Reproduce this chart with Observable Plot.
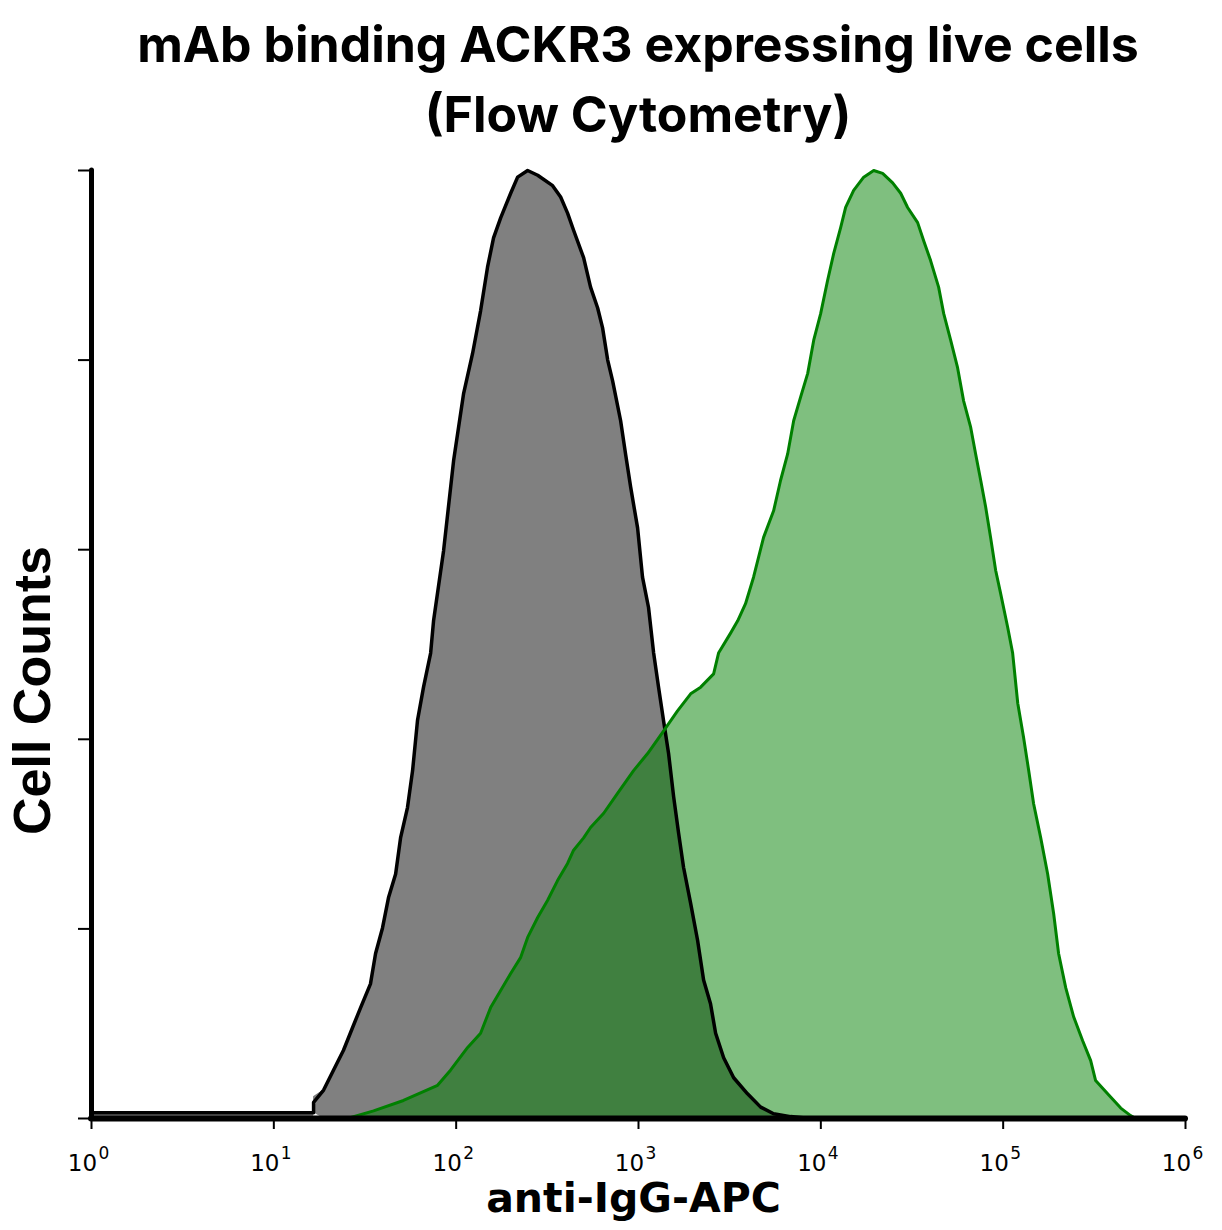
<!DOCTYPE html>
<html>
<head>
<meta charset="utf-8">
<script src="https://cdn.jsdelivr.net/npm/d3@7"></script>
<script src="https://cdn.jsdelivr.net/npm/@observablehq/plot@0.6"></script>
<style>
  html, body { margin: 0; padding: 0; background: #fff; }
  body { width: 1222px; }
  #title {
    height: 145px; box-sizing: border-box;
    padding-top: 9px; padding-left: 54px;
    font-family: Inter, "Liberation Sans", sans-serif; font-weight: 700;
    font-size: 50px; line-height: 70px; text-align: center; color: #000;
    white-space: nowrap;
  }
  #chart svg { display: block; }
</style>
</head>
<body>
<div id="title">mAb binding ACKR3 expressing live cells<br>(Flow Cytometry)</div>
<div id="chart"></div>
<script>
// Isotype / control histogram (grey): log10 APC intensity and % of max
const controlLogX = [0, 1.218, 1.218, 1.273, 1.327, 1.382, 1.432, 1.476, 1.530, 1.558,
  1.596, 1.629, 1.668, 1.695, 1.733, 1.761, 1.788, 1.821, 1.860, 1.876,
  1.931, 1.986, 2.041, 2.090, 2.134, 2.172, 2.205, 2.244, 2.299, 2.337,
  2.392, 2.447, 2.529, 2.573, 2.611, 2.644, 2.699, 2.737, 2.776, 2.803,
  2.831, 2.858, 2.902, 2.929, 2.957, 2.995, 3.022, 3.055, 3.083, 3.110,
  3.137, 3.165, 3.193, 3.220, 3.247, 3.286, 3.324, 3.357, 3.395, 3.423,
  3.467, 3.522, 3.598, 3.670, 3.741, 3.834, 3.944];
const controlPct = [0.6, 0.6, 1.7, 3.0, 5.1, 7.2, 9.6, 11.7, 14.2, 17.4,
  20.1, 23.3, 25.8, 29.6, 32.8, 36.7, 42.0, 45.5, 49.1, 52.5,
  59.9, 69.4, 76.5, 80.7, 85.2, 89.8, 92.9, 95.0, 97.6, 99.3,
  100, 99.5, 98.4, 97.2, 95.5, 93.7, 90.8, 87.7, 85.5, 83.4,
  80.0, 77.8, 73.6, 70.1, 66.6, 62.3, 57.1, 53.9, 49.1, 45.5,
  42.0, 38.5, 33.9, 30.1, 26.5, 22.7, 18.8, 14.6, 12.1, 9.0,
  6.4, 4.3, 2.6, 1.2, 0.5, 0.2, 0];

// mAb binding histogram (green)
const mabLogX = [1.404, 1.547, 1.711, 1.898, 1.969, 2.063, 2.134, 2.189, 2.244, 2.299,
  2.354, 2.392, 2.447, 2.501, 2.556, 2.611, 2.644, 2.699, 2.737, 2.809,
  2.885, 2.973, 3.050, 3.138, 3.214, 3.286, 3.341, 3.412, 3.439, 3.505,
  3.544, 3.587, 3.631, 3.686, 3.741, 3.779, 3.818, 3.851, 3.889, 3.928,
  3.961, 3.999, 4.037, 4.070, 4.109, 4.136, 4.180, 4.235, 4.290, 4.339,
  4.394, 4.438, 4.476, 4.531, 4.564, 4.602, 4.646, 4.674, 4.712, 4.750,
  4.783, 4.822, 4.849, 4.877, 4.904, 4.931, 4.959, 4.986, 5.025, 5.052,
  5.080, 5.112, 5.140, 5.167, 5.206, 5.244, 5.277, 5.304, 5.343, 5.387,
  5.436, 5.480, 5.507, 5.573, 5.645, 5.699, 5.727];
const mabPct = [0, 0.8, 1.9, 3.5, 5.1, 7.5, 9.0, 11.7, 13.5, 15.3,
  17.0, 19.1, 21.2, 23.0, 25.1, 26.9, 28.3, 29.6, 30.7, 32.2,
  34.3, 36.7, 38.5, 40.9, 43.0, 44.8, 45.5, 46.9, 49.1, 51.2,
  52.5, 54.3, 57.1, 61.3, 64.1, 67.3, 70.1, 73.6, 76.1, 78.6,
  82.1, 84.9, 88.4, 91.2, 94.0, 96.1, 97.9, 99.3, 100, 99.7,
  98.7, 97.6, 96.1, 94.5, 92.6, 90.5, 87.7, 84.9, 82.1, 79.2,
  75.7, 72.9, 70.1, 67.3, 64.5, 61.3, 57.8, 55.4, 51.8, 49.1,
  43.8, 40.2, 36.7, 33.2, 29.6, 25.8, 21.6, 17.4, 13.8, 10.7,
  8.2, 6.1, 4.0, 2.6, 1.1, 0.3, 0];

const xTicks = [1, 10, 100, 1000, 10000, 100000, 1000000];
const yTicks = [0, 20, 40, 60, 80, 100];
const xLabel = "anti-IgG-APC";
const yLabel = "Cell Counts";

const controlRows = controlLogX.map((l, i) => ({x: Math.pow(10, l), pct: controlPct[i]}));
const mabRows = mabLogX.map((l, i) => ({x: Math.pow(10, l), pct: mabPct[i]}));

const tickFont = "'DejaVu Sans', Verdana, sans-serif";

const chart = Plot.plot({
  width: 1222,
  height: 1085,
  marginLeft: 91,
  marginRight: 37,
  marginTop: 25,
  marginBottom: 112,
  x: {type: "log", domain: [1, 1e6]},
  y: {domain: [0, 100]},
  style: {fontFamily: tickFont, background: "white", color: "black", overflow: "visible"},
  marks: [
    Plot.areaY(controlRows, {x: "x", y: "pct", fill: "#808080"}),
    Plot.areaY(mabRows, {x: "x", y: "pct", fill: "#008000", fillOpacity: 0.5}),
    Plot.lineY(controlRows, {x: "x", y: "pct", stroke: "black", strokeWidth: 3.5}),
    Plot.lineY(mabRows, {x: "x", y: "pct", stroke: "#008000", strokeWidth: 3}),
    Plot.axisX({ticks: xTicks, tickFormat: () => "", tickSize: 11, strokeWidth: 2, label: null}),
    Plot.axisY({ticks: yTicks, tickFormat: () => "", tickSize: 13, strokeWidth: 2, label: null}),
    // tick labels: base "10" and superscript exponent
    Plot.text(xTicks, {x: d => d, y: () => 0, text: () => "10", dx: -9, dy: 45, lineAnchor: "middle",
      textAnchor: "middle", fontSize: 23, fontFamily: tickFont}),
    Plot.text(xTicks, {x: d => d, y: () => 0, text: d => String(Math.round(Math.log10(d))), dx: 7, dy: 35,
      lineAnchor: "middle", textAnchor: "start", fontSize: 17, fontFamily: tickFont}),
    Plot.ruleX([1], {y1: 0, y2: 100, stroke: "black", strokeWidth: 5, strokeLinecap: "round"}),
    Plot.ruleY([0], {x1: 1, x2: 1e6, stroke: "black", strokeWidth: 6, strokeLinecap: "round"}),
    Plot.text([yLabel], {frameAnchor: "left", textAnchor: "middle", lineAnchor: "middle", rotate: -90,
      dx: -58, dy: 46, fontSize: 52, fontWeight: "bold", fontFamily: "'Liberation Sans', Arial, sans-serif"}),
    Plot.text([xLabel], {frameAnchor: "bottom", textAnchor: "middle", lineAnchor: "middle", dx: -5, dy: 80,
      fontSize: 41, fontWeight: "bold", fontFamily: tickFont})
  ]
});
document.getElementById("chart").appendChild(chart);
</script>
</body>
</html>
